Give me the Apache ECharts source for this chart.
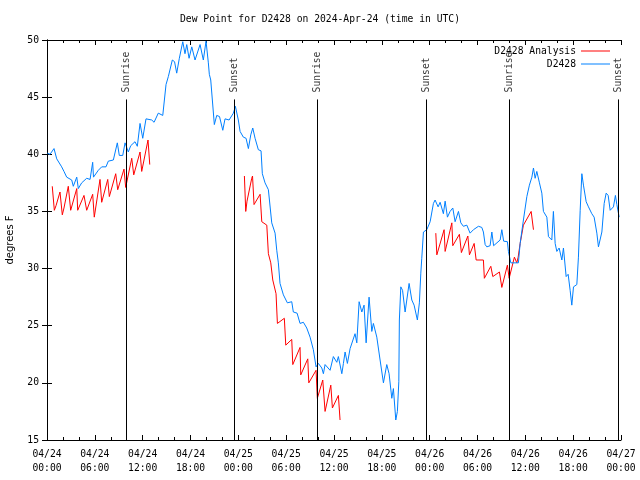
<!DOCTYPE html>
<html>
<head>
<meta charset="utf-8">
<script src="https://cdn.jsdelivr.net/npm/echarts@6/dist/echarts.min.js"></script>
<style>html,body{margin:0;padding:0;background:#fff;}#c{width:640px;height:480px;}</style>
</head>
<body>
<div id="c"></div>
<script>
// Hours since 2024-04-24 00:00 UTC, dew point in degrees F
const d2428 = [
[0.04,40.1],[0.38,40.0],[0.88,40.5],[1.22,39.6],[1.84,38.9],[2.13,38.5],[2.47,38.0],[3.10,37.75],[3.30,37.2],
[3.73,38.0],[3.93,37.0],[4.35,37.5],[4.98,37.9],[5.40,37.8],[5.73,39.3],[5.83,38.0],[6.44,38.6],[6.86,38.9],
[7.40,38.9],[7.69,39.4],[8.32,39.5],[8.82,41.0],[9.07,39.9],[9.50,39.9],[9.79,41.0],[10.20,40.2],[10.50,40.75],
[11.04,41.1],[11.33,40.7],[11.67,42.7],[12.01,41.4],[12.42,43.1],[13.14,43.0],[13.43,42.8],[13.96,43.6],
[14.52,43.4],[14.93,46.1],[15.22,46.8],[15.72,48.25],[16.00,48.1],[16.27,47.1],[16.60,48.4],[17.03,49.85],
[17.31,48.8],[17.53,49.6],[17.82,48.4],[18.16,49.4],[18.57,48.25],[19.20,49.6],[19.61,48.25],[19.95,49.9],
[20.24,48.0],[20.36,47.0],[20.54,46.5],[20.74,44.75],[20.99,42.6],[21.29,43.4],[21.64,43.3],[22.05,42.1],
[22.33,43.1],[22.84,43.0],[23.38,43.6],[23.63,44.2],[24.00,43.0],[24.22,42.0],[24.63,41.5],[24.97,41.4],
[25.26,40.5],[25.56,41.7],[25.81,42.3],[26.10,41.4],[26.51,40.4],[26.85,40.3],[27.01,38.3],[27.35,37.5],
[27.77,36.9],[28.19,34.0],[28.61,33.1],[28.82,31.6],[29.02,30.5],[29.23,28.7],[29.65,27.7],[30.15,27.0],
[30.70,27.1],[30.90,26.2],[31.37,26.1],[31.74,25.2],[32.16,25.3],[32.58,24.8],[33.00,24.0],[33.41,22.9],
[33.75,21.4],[34.04,21.7],[34.47,21.3],[34.67,20.8],[34.88,21.6],[35.51,21.1],[35.92,22.3],[36.35,21.8],
[36.55,22.3],[36.98,20.8],[37.18,21.7],[37.39,22.7],[37.68,21.7],[38.02,23.0],[38.64,24.3],[38.86,23.5],
[39.15,27.1],[39.49,26.2],[39.77,26.8],[40.03,23.5],[40.40,27.5],[40.74,24.5],[40.94,25.2],[41.37,24.0],
[41.78,22.0],[42.20,20.0],[42.62,21.6],[42.91,20.8],[43.25,18.65],[43.45,19.5],[43.75,16.75],[43.95,17.5],
[44.13,20.1],[44.20,25.5],[44.38,28.4],[44.60,28.1],[44.92,26.2],[45.13,27.25],[45.42,28.7],[45.76,27.25],
[46.05,26.8],[46.46,25.5],[46.71,27.0],[46.89,29.6],[47.01,30.9],[47.22,33.2],[47.64,33.4],[48.06,34.1],
[48.47,35.7],[48.68,36.0],[49.06,35.4],[49.31,35.8],[49.52,35.3],[49.72,34.8],[49.94,35.9],[50.23,34.5],
[50.56,35.0],[50.90,35.3],[51.19,34.1],[51.61,35.0],[51.91,34.0],[52.23,33.7],[52.66,33.8],[53.07,33.1],
[53.49,33.4],[54.12,33.7],[54.54,33.6],[54.74,33.2],[54.96,32.1],[55.17,31.9],[55.58,32.0],[55.80,33.2],
[56.02,32.0],[56.84,32.5],[57.05,33.4],[57.28,32.4],[57.75,32.35],[57.88,31.5],[58.18,30.5],[59.13,30.5],
[59.35,32.2],[59.76,34.25],[60.19,36.3],[60.51,37.3],[60.82,38.0],[61.02,38.8],[61.23,37.9],[61.44,38.5],
[61.77,37.5],[62.07,36.6],[62.27,35.0],[62.70,34.5],[62.90,32.8],[63.32,32.5],[63.52,35.0],[63.74,32.2],
[63.95,31.5],[64.24,31.8],[64.58,30.75],[64.78,31.8],[65.12,29.3],[65.37,29.5],[65.62,28.1],[65.83,26.8],
[66.04,28.4],[66.46,28.6],[66.66,31.0],[66.88,35.1],[67.09,38.3],[67.29,37.3],[67.63,35.85],[67.92,35.4],
[68.34,34.8],[68.63,34.5],[68.97,33.1],[69.17,31.9],[69.39,31.8],[69.60,33.2],[69.89,35.7],[70.14,36.6],
[70.39,36.4],[70.64,35.1],[71.05,35.4],[71.30,36.4],[71.48,35.6],[71.77,34.5]
];
const analysis1 = [
[0.66,37.2],[0.92,35.1],[1.13,35.5],[1.63,36.7],[1.92,34.7],[2.13,35.3],[2.67,37.2],[2.97,35.1],[3.73,37.0],
[3.85,35.1],[4.64,36.4],[4.98,35.1],[5.73,36.5],[5.93,34.5],[6.65,37.8],[6.86,35.8],[7.62,37.8],[7.82,36.3],
[8.62,38.3],[8.87,36.9],[9.66,38.7],[9.87,37.1],[10.63,39.65],[10.88,38.2],[11.67,40.2],[11.88,38.5],
[12.67,41.25],[12.89,39.1]
];
const analysis2 = [
[24.76,38.1],[24.93,35.0],[25.09,35.9],[25.68,37.9],[25.78,38.1],[25.97,35.6],[26.73,36.5],[26.94,34.1],
[27.57,33.8],[27.77,31.3],[28.07,30.5],[28.32,29.0],[28.73,27.8],[28.90,25.2],[29.77,25.65],[29.95,23.3],
[30.70,23.8],[30.83,21.6],[31.74,23.1],[31.83,20.7],[32.71,22.1],[32.84,20.0],[33.75,21.1],[33.91,18.65],
[34.59,20.25],[34.88,17.5],[35.60,19.8],[35.80,17.8],[36.55,18.9],[36.76,16.75]
];
const analysis3 = [
[48.77,33.1],[48.90,31.2],[49.81,33.4],[49.94,31.5],[50.78,34.0],[50.90,32.0],[51.73,33.0],[51.98,31.4],
[52.79,32.85],[52.99,31.2],[53.58,32.2],[53.83,30.75],[54.74,30.75],[54.86,29.15],[55.67,30.2],[55.92,29.3],
[56.75,29.7],[57.05,28.35],[57.75,30.3],[57.97,29.15],[58.63,31.0],[58.93,30.5],[59.10,31.0],[59.35,32.2],
[59.76,33.8],[60.73,35.0],[61.02,33.4]
];
const sunTimes = [9.95, 23.5, 33.92, 47.6, 58.0, 71.64];
const sunLabels = ['Sunrise', 'Sunset', 'Sunrise', 'Sunset', 'Sunrise', 'Sunset'];
const sunLineTop = 44.8;
const yMin = 15, yMax = 50, yStep = 5;
const xMin = 0, xMax = 72, xStep = 6;

const MONO = 'DejaVu Sans Mono';
const FS = 9.7;
function fmtX(v) {
  const day = 24 + Math.floor(v / 24);
  const hh = v % 24;
  return '04/' + day + '\n' + (hh < 10 ? '0' : '') + hh + ':00';
}
const blue = '#0080ff', red = '#ff0000';
const chart = echarts.init(document.getElementById('c'), null, {renderer: 'canvas'});
const axisLine = {show: true, lineStyle: {color: '#000', width: 1}};
const xCommon = {
  type: 'value', min: xMin, max: xMax, interval: xStep,
  axisLine: axisLine,
  axisTick: {show: true, inside: true, length: 5, lineStyle: {color: '#000'}},
  minorTick: {show: true, splitNumber: 3, length: 3, lineStyle: {color: '#000'}},
  splitLine: {show: false}
};
const yCommon = {
  type: 'value', min: yMin, max: yMax, interval: yStep,
  axisLine: axisLine,
  axisTick: {show: true, inside: true, length: 5, lineStyle: {color: '#000'}},
  splitLine: {show: false}
};
chart.setOption({
  animation: false,
  backgroundColor: '#fff',
  title: {
    text: 'Dew Point for D2428 on 2024-Apr-24 (time in UTC)',
    left: 'center', top: 14, padding: 0,
    textStyle: {fontFamily: MONO, fontSize: FS, fontWeight: 'normal', color: '#000'}
  },
  legend: {
    data: [{name: 'D2428 Analysis', icon: 'rect'}, {name: 'D2428', icon: 'rect'}],
    orient: 'vertical', align: 'right', right: 30, top: 45, padding: 0,
    itemWidth: 29, itemHeight: 1, itemGap: 1,
    textStyle: {fontFamily: MONO, fontSize: FS, color: '#000', lineHeight: 12}
  },
  grid: {left: 47, right: 19, top: 40, bottom: 40, containLabel: false, outerBoundsMode: 'none'},
  xAxis: [
    Object.assign({}, xCommon, {position: 'bottom',
      axisLabel: {formatter: fmtX, fontFamily: MONO, fontSize: FS, color: '#000', lineHeight: 14, margin: 7}}),
    Object.assign({}, xCommon, {position: 'top', axisLabel: {show: false}})
  ],
  yAxis: [
    Object.assign({}, yCommon, {position: 'left',
      name: 'degrees F', nameLocation: 'middle', nameGap: 32, nameRotate: 90,
      nameTextStyle: {fontFamily: 'DejaVu Sans', fontSize: 10, color: '#000'},
      axisLabel: {fontFamily: MONO, fontSize: FS, color: '#000', margin: 8}}),
    Object.assign({}, yCommon, {position: 'right', axisLabel: {show: false}})
  ],
  series: [
    {name: 'D2428 Analysis', type: 'line', data: analysis1, symbol: 'none', lineStyle: {color: red, width: 1}, itemStyle: {color: red}},
    {name: 'D2428 Analysis', type: 'line', data: analysis2, symbol: 'none', lineStyle: {color: red, width: 1}, itemStyle: {color: red}},
    {name: 'D2428 Analysis', type: 'line', data: analysis3, symbol: 'none', lineStyle: {color: red, width: 1}, itemStyle: {color: red}},
    {name: 'D2428', type: 'line', data: d2428, symbol: 'none', lineStyle: {color: blue, width: 1}, itemStyle: {color: blue}},
    {
      name: 'sun', type: 'scatter', silent: true, symbolSize: 0,
      itemStyle: {color: 'rgba(0,0,0,0)'},
      data: sunTimes.map((t, i) => ({value: [t, sunLineTop], name: sunLabels[i]})),
      label: {
        show: true, formatter: p => p.name, position: 'top', distance: 7,
        rotate: 90, align: 'left', verticalAlign: 'middle',
        fontFamily: MONO, fontSize: FS, color: '#000'
      },
      markLine: {
        silent: true, symbol: ['none', 'none'], animation: false,
        label: {show: false},
        lineStyle: {color: '#000', width: 1, type: 'solid'},
        data: sunTimes.map(t => [{coord: [t, yMin]}, {coord: [t, sunLineTop]}])
      }
    }
  ]
});
</script>
</body>
</html>
